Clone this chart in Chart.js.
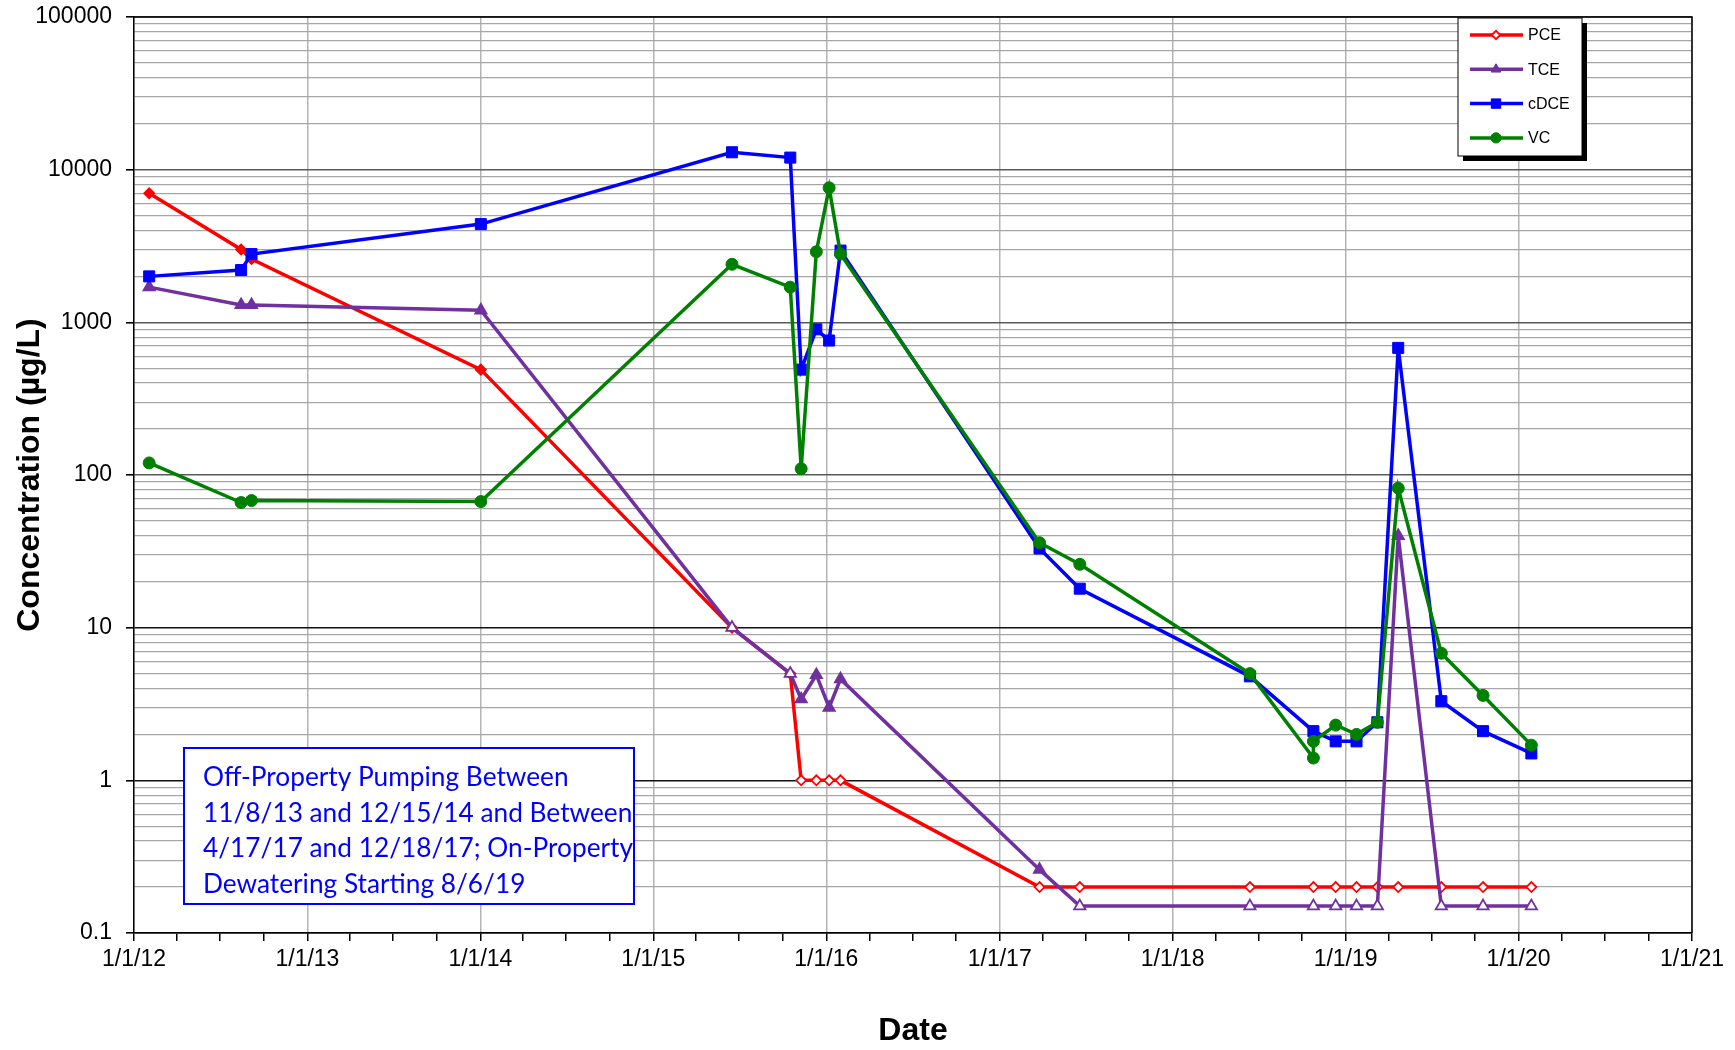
<!DOCTYPE html>
<html>
<head>
<meta charset="utf-8">
<title>Concentration vs Date</title>
<script src="https://cdn.jsdelivr.net/npm/chart.js@4.4.0/dist/chart.umd.min.js"></script>
<style>
  body { margin: 0; background: #fff; }
  #wrap { width: 1735px; height: 1050px; }
</style>
</head>
<body>
<div id="wrap"><canvas id="chart" width="1735" height="1050"></canvas></div>
<script>
'use strict';

// sample dates (one row is a duplicate VC sample on the same day)
const dates = [
  '2012-02-02', '2012-08-14', '2012-09-05', '2014-01-02', '2015-06-16',
  '2015-10-17', '2015-11-09', '2015-12-11', '2016-01-07', '2016-01-31',
  '2017-03-26', '2017-06-19', '2018-06-13', '2018-10-25', '2018-10-25',
  '2018-12-11', '2019-01-24', '2019-03-09', '2019-04-22', '2019-07-22',
  '2019-10-18', '2020-01-28'
];

const pce  = [7000, 3000, 2600, 490, 10, 5, 1, 1, 1, 1, 0.2, 0.2, 0.2, 0.2, null, 0.2, 0.2, 0.2, 0.2, 0.2, 0.2, 0.2];
const tce  = [1700, 1300, 1300, 1200, 10, 5, 3.4, 4.9, 3.0, 4.6, 0.26, 0.15, 0.15, 0.15, null, 0.15, 0.15, 0.15, 40, 0.15, 0.15, 0.15];
const cdce = [2000, 2200, 2800, 4400, 13000, 12000, 490, 900, 760, 2950, 33, 18, 4.8, 2.1, null, 1.8, 1.8, 2.4, 680, 3.3, 2.1, 1.5];
const vc   = [120, 66, 68, 67, 2400, 1700, 110, 2900, 7600, 2800, 36, 26, 5.0, 1.4, 1.8, 2.3, 2.0, 2.4, 82, 6.8, 3.6, 1.7];

// 1 = not detected (hollow marker)
const pceND = [0, 0, 0, 0, 1, 1, 1, 1, 1, 1, 1, 1, 1, 1, 0, 1, 1, 1, 1, 1, 1, 1];
const tceND = [0, 0, 0, 0, 1, 1, 0, 0, 0, 0, 0, 1, 1, 1, 0, 1, 1, 1, 0, 1, 1, 1];

const xTickLabels = ['1/1/12', '1/1/13', '1/1/14', '1/1/15', '1/1/16', '1/1/17', '1/1/18', '1/1/19', '1/1/20', '1/1/21'];
const yTickLabels = ['0.1', '1', '10', '100', '1000', '10000', '100000'];

const noteLines = [
  'Off-Property Pumping Between',
  '11/8/13 and 12/15/14 and Between',
  '4/17/17 and 12/18/17; On-Property',
  'Dewatering Starting 8/6/19'
];

const DAY0 = Date.UTC(2012, 0, 1);
const toDay = s => (Date.parse(s) - DAY0) / 864e5;
const dayOf = (y, m) => (Date.UTC(y, m, 1) - DAY0) / 864e5;

function series(label, values, color, style, radius, nd, order) {
  return {
    label: label,
    data: dates.map((d, i) => ({ x: toDay(d), y: values[i] })),
    borderColor: color,
    backgroundColor: color,
    borderWidth: 3.5,
    pointStyle: style,
    pointRadius: radius,
    pointBorderWidth: nd ? 1.8 : 1,
    pointBorderColor: color,
    pointBackgroundColor: ctx => (nd && nd[ctx.dataIndex]) ? '#ffffff' : color,
    spanGaps: true,
    tension: 0,
    order: order
  };
}

const datasets = [
  series('PCE', pce, '#ff0000', 'rectRot', 5, pceND, 4),
  series('TCE', tce, '#7030a0', 'triangle', 6.5, tceND, 3),
  series('cDCE', cdce, '#0000ff', 'rect', 7.8, null, 2),
  series('VC', vc, '#008000', 'circle', 6, null, 1)
];

const framePlugin = {
  id: 'frame',
  beforeDatasetsDraw(chart) {
    const a = chart.chartArea, ctx = chart.ctx;
    ctx.save();
    ctx.strokeStyle = '#000';
    ctx.lineWidth = 1.5;
    ctx.beginPath();
    ctx.moveTo(a.left, a.top);
    ctx.lineTo(a.right, a.top);
    ctx.lineTo(a.right, a.bottom);
    ctx.stroke();
    ctx.restore();
  }
};

const notePlugin = {
  id: 'note',
  afterDatasetsDraw(chart) {
    const a = chart.chartArea, ctx = chart.ctx;
    const x = a.left + 50, y = a.bottom - 185, w = 450, h = 156;
    ctx.save();
    ctx.fillStyle = '#fff';
    ctx.fillRect(x, y, w, h);
    ctx.strokeStyle = '#0000ff';
    ctx.lineWidth = 2;
    ctx.strokeRect(x, y, w, h);
    let size = 26;
    ctx.font = size + 'px Lato';
    const widest = Math.max(...noteLines.map(t => ctx.measureText(t).width));
    size = size * 430 / widest;
    ctx.font = size + 'px Lato';
    ctx.fillStyle = '#0000ff';
    ctx.textBaseline = 'alphabetic';
    noteLines.forEach((t, i) => ctx.fillText(t, x + 19, y + 38 + i * 35.6));
    ctx.restore();
  }
};

const legendPlugin = {
  id: 'boxLegend',
  afterDraw(chart) {
    const a = chart.chartArea, ctx = chart.ctx;
    const bx = a.right - 234, by = a.top + 1, bw = 124, bh = 138;
    ctx.save();
    ctx.fillStyle = '#000';
    ctx.fillRect(bx + 5, by + 5, bw, bh);
    ctx.fillStyle = '#fff';
    ctx.fillRect(bx, by, bw, bh);
    ctx.strokeStyle = '#000';
    ctx.lineWidth = 1;
    ctx.strokeRect(bx, by, bw, bh);
    ctx.font = '16px "Liberation Sans", Arial';
    ctx.textBaseline = 'middle';
    chart.data.datasets.forEach((ds, i) => {
      const cy = by + 17 + i * 34.3;
      ctx.strokeStyle = ds.borderColor;
      ctx.lineWidth = 3.5;
      ctx.beginPath();
      ctx.moveTo(bx + 12, cy);
      ctx.lineTo(bx + 65, cy);
      ctx.stroke();
      ctx.fillStyle = ds.label === 'PCE' ? '#fff' : ds.borderColor;
      ctx.lineWidth = ds.label === 'PCE' ? 1.8 : 1;
      Chart.helpers.drawPoint(ctx, { pointStyle: ds.pointStyle, radius: ds.pointRadius * 0.85, rotation: 0, borderWidth: ctx.lineWidth }, bx + 38, cy);
      ctx.fillStyle = '#000';
      ctx.fillText(ds.label, bx + 70, cy + 1);
    });
    ctx.restore();
  }
};

let canvasElem = document.getElementById('chart');

let config = {
  type: 'line',
  data: { datasets: datasets },
  options: {
    responsive: false,
    animation: false,
    layout: { padding: { left: 0, top: 17, right: 43, bottom: 0 } },
    plugins: {
      legend: { display: false },
      tooltip: { enabled: false }
    },
    scales: {
      x: {
        type: 'linear',
        min: 0,
        max: dayOf(2021, 0),
        afterBuildTicks(scale) {
          const t = [];
          for (let y = 2012; y <= 2021; y++) {
            for (let q = 0; q < 4; q++) {
              if (y === 2021 && q > 0) break;
              t.push({ value: dayOf(y, q * 3), major: q === 0, year: y });
            }
          }
          scale.ticks = t;
        },
        afterFit(scale) {
          scale.height = 117;
          scale.paddingLeft = 0;
          scale.paddingRight = 0;
        },
        ticks: {
          autoSkip: false,
          maxRotation: 0,
          minRotation: 0,
          padding: 5,
          color: '#000',
          font: { family: '"Liberation Sans", Arial', size: 23 },
          callback: (v, i, ticks) => ticks[i].major ? xTickLabels[ticks[i].year - 2012] : ''
        },
        grid: {
          color: ctx => (ctx.tick && ctx.tick.major) ? '#b4b4b4' : 'rgba(0,0,0,0)',
          lineWidth: 1.5,
          tickColor: '#000',
          tickLength: 8
        },
        border: { color: '#000', width: 1.5 },
        title: {
          display: true,
          text: 'Date',
          color: '#000',
          padding: { top: 0, bottom: 0 },
          font: { family: '"Liberation Sans", Arial', size: 32, weight: 'bold' }
        }
      },
      y: {
        type: 'logarithmic',
        min: 0.1,
        max: 100000,
        afterBuildTicks(scale) {
          const t = [];
          for (let e = -1; e <= 5; e++) {
            for (let m = 1; m <= 9; m++) {
              if (e === 5 && m > 1) break;
              t.push({ value: m * Math.pow(10, e), major: m === 1, exp: e });
            }
          }
          scale.ticks = t;
        },
        afterFit(scale) {
          scale.width = 134;
          scale.paddingTop = 0;
          scale.paddingBottom = 0;
        },
        ticks: {
          autoSkip: false,
          padding: 14,
          color: '#000',
          font: { family: '"Liberation Sans", Arial', size: 23 },
          callback: (v, i, ticks) => ticks[i].major ? yTickLabels[ticks[i].exp + 1] : ''
        },
        grid: {
          color: ctx => {
            const tk = ctx.tick;
            if (!tk) return '#999';
            if (!tk.major) return '#a6a6a6';
            return tk.exp <= 1 ? '#111' : '#5a5a5a';
          },
          lineWidth: ctx => (ctx.tick && ctx.tick.major) ? 1.6 : 1.2,
          tickColor: ctx => (ctx.tick && ctx.tick.major) ? '#000' : 'rgba(0,0,0,0)',
          tickLength: 8
        },
        border: { color: '#000', width: 1.5 },
        title: {
          display: true,
          text: 'Concentration (µg/L)',
          color: '#000',
          padding: { top: 11, bottom: 0 },
          font: { family: '"Liberation Sans", Arial', size: 32, weight: 'bold' }
        }
      }
    }
  },
  plugins: [framePlugin, notePlugin, legendPlugin]
};

let myChart = new Chart(canvasElem, config);
</script>
</body>
</html>
